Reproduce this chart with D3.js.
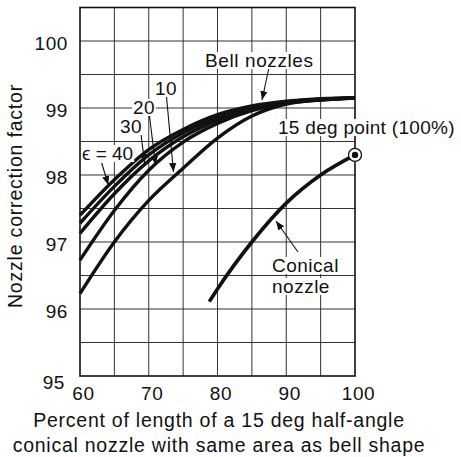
<!DOCTYPE html>
<html><head><meta charset="utf-8">
<script src="https://cdn.jsdelivr.net/npm/d3@7"></script>
<style>
html,body{margin:0;padding:0;background:#fff;}
svg text{font-family:"Liberation Sans",Arial,Helvetica,sans-serif;fill:#111;}
</style></head>
<body>
<svg id="chart" width="461" height="457"></svg>
<script>
// ---- data ----
const bellX   = [60, 65, 70, 75, 80, 85, 90, 95, 100];
const bell40  = [97.40, 97.93, 98.38, 98.68, 98.90, 99.03, 99.10, 99.14, 99.15];
const bellB   = [97.28, 97.83, 98.30, 98.63, 98.86, 99.01, 99.09, 99.13, 99.15];
const bell30  = [97.13, 97.72, 98.21, 98.57, 98.82, 98.99, 99.08, 99.13, 99.15];
const bell20  = [96.73, 97.47, 98.07, 98.49, 98.77, 98.96, 99.07, 99.12, 99.15];
const bell10  = [96.23, 97.00, 97.62, 98.10, 98.55, 98.88, 99.06, 99.12, 99.15];
const conicalX = [78.8, 80, 85, 90, 95, 100];
const conicalY = [96.11, 96.30, 97.00, 97.58, 98.00, 98.30];
const point15 = [100, 98.30];
const xTicks = [60, 70, 80, 90, 100];
const yTicks = [95, 96, 97, 98, 99, 100];
const xGrid = [65, 70, 75, 80, 85, 90, 95];
const yGrid = [95.5, 96, 96.5, 97, 97.5, 98, 98.5, 99, 99.5, 100];

// ---- scales ----
const x = d3.scaleLinear().domain([60, 100]).range([80, 355]);
const y = d3.scaleLinear().domain([95, 100.5]).range([376, 7.5]);
const svg = d3.select("#chart");

// grid
svg.append("g").selectAll("line").data(xGrid).join("line")
  .attr("x1", d => x(d)).attr("x2", d => x(d)).attr("y1", y(95)).attr("y2", y(100.5))
  .attr("stroke", "#333").attr("stroke-width", 1);
svg.append("g").selectAll("line").data(yGrid).join("line")
  .attr("x1", x(60)).attr("x2", x(100)).attr("y1", d => y(d)).attr("y2", d => y(d))
  .attr("stroke", "#333").attr("stroke-width", 1);
// frame
svg.append("rect").attr("x", x(60)).attr("y", y(100.5))
  .attr("width", x(100) - x(60)).attr("height", y(95) - y(100.5))
  .attr("fill", "none").attr("stroke", "#111").attr("stroke-width", 1.6);

// axes (tick labels)
const xAxis = d3.axisBottom(x).tickValues(xTicks).tickFormat(d3.format("d")).tickSize(0).tickPadding(10);
const gx = svg.append("g").attr("transform", `translate(3,${y(95)})`).call(xAxis);
gx.select(".domain").remove();
gx.selectAll("text").attr("font-size", 19).attr("fill", "#111")
  .attr("font-family", '"Liberation Sans",Arial,sans-serif').attr("dy", "0.72em")
  .attr("letter-spacing", 0.6);

const yAxis = d3.axisLeft(y).tickValues(yTicks).tickFormat(d3.format("d")).tickSize(0).tickPadding(12);
const gy = svg.append("g").attr("transform", `translate(${x(60)},0)`).call(yAxis);
gy.select(".domain").remove();
gy.selectAll("text").attr("font-size", 19).attr("fill", "#111")
  .attr("font-family", '"Liberation Sans",Arial,sans-serif').attr("dy", "0.45em")
  .attr("letter-spacing", 0.6)
  .attr("transform", d => d === 95 ? "translate(-3,4)" : null);

// curves
const line = d3.line().x(d => x(d[0])).y(d => y(d[1])).curve(d3.curveMonotoneX);
[bell10, bell20, bell30, bellB, bell40].forEach(s => {
  svg.append("path").datum(bellX.map((v, i) => [v, s[i]]))
    .attr("d", line).attr("fill", "none").attr("stroke", "#111")
    .attr("stroke-width", 3.4).attr("stroke-linecap", "butt");
});
svg.append("path").datum(conicalX.map((v, i) => [v, conicalY[i]]))
  .attr("d", line).attr("fill", "none").attr("stroke", "#111")
  .attr("stroke-width", 3.6);

// 15 deg point marker
svg.append("circle").attr("cx", x(point15[0])).attr("cy", y(point15[1])).attr("r", 6.5)
  .attr("fill", "#fff").attr("stroke", "#111").attr("stroke-width", 1.3);
svg.append("circle").attr("cx", x(point15[0])).attr("cy", y(point15[1])).attr("r", 3.2)
  .attr("fill", "#111");

// arrow marker
const defs = svg.append("defs");
defs.append("marker").attr("id", "ah").attr("viewBox", "0 0 10 10")
  .attr("refX", 10).attr("refY", 5).attr("markerWidth", 9).attr("markerHeight", 9)
  .attr("markerUnits", "userSpaceOnUse").attr("orient", "auto")
  .append("path").attr("d", "M0,1 L10,5 L0,9 Z").attr("fill", "#111");

function arrow(x1, y1, x2, y2) {
  svg.append("line").attr("x1", x1).attr("y1", y1).attr("x2", x2).attr("y2", y2)
    .attr("stroke", "#111").attr("stroke-width", 1.1).attr("marker-end", "url(#ah)");
}
function label(txt, tx, ty, size, ls) {
  const t = svg.append("text").attr("x", tx).attr("y", ty).attr("font-size", size)
    .attr("letter-spacing", ls || 0).text(txt);
  const b = t.node().getBBox();
  svg.insert("rect", function(){ return t.node(); })
    .attr("x", b.x - 1).attr("y", b.y + 2).attr("width", b.width + 2).attr("height", b.height - 4)
    .attr("fill", "#fff");
  return t;
}

// annotations
arrow(101.7, 163, 108.3, 185);
arrow(141, 134, 144.5, 163);
arrow(149.5, 116, 155.5, 165);
arrow(166.5, 97, 173.5, 172);
arrow(270, 63, 262, 100);
arrow(298, 252, 276, 221);

label("\u03F5 = 40", 82, 160, 19);
label("30", 120, 133, 19, 0.4);
label("20", 133, 114, 19, 0.4);
label("10", 155, 95, 19, 0.4);
label("Bell nozzles", 205, 67, 19, 0.6);
label("15 deg point (100%)", 278, 134, 19, 0.3);
label("Conical", 272, 272, 19, 0.5);
label("nozzle", 272, 293, 19, 0.5);

// axis titles
svg.append("text").attr("x", 219).attr("y", 427).attr("text-anchor", "middle")
  .attr("font-size", 19.5).attr("letter-spacing", 0.75)
  .text("Percent of length of a 15 deg half-angle");
svg.append("text").attr("x", 219).attr("y", 452).attr("text-anchor", "middle")
  .attr("font-size", 19.5).attr("letter-spacing", 0.75)
  .text("conical nozzle with same area as bell shape");
svg.append("text").attr("transform", "translate(22,196) rotate(-90)")
  .attr("text-anchor", "middle").attr("font-size", 19.5).attr("letter-spacing", 0.8)
  .text("Nozzle correction factor");
</script>
</body></html>
